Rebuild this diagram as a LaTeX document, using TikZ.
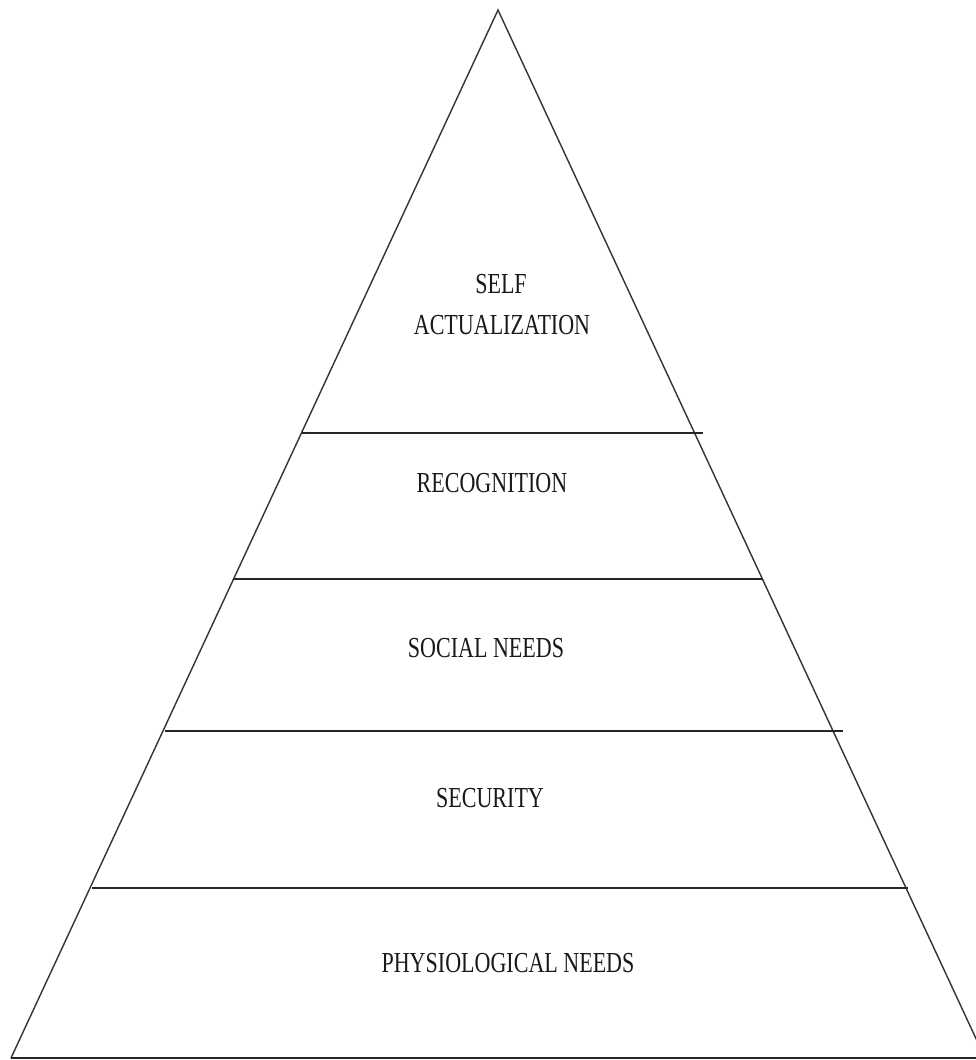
\documentclass[tikz,border=0pt]{standalone}
\usepackage{fontspec}
\setmainfont{Liberation Serif}
\begin{document}
\begin{tikzpicture}[x=1pt,y=-1pt,
  side/.style={line width=1.4pt, draw=black!80},
  tier/.style={line width=1.8pt, draw=black!85},
  lab/.style={anchor=base, inner sep=0pt, text=black!90,
    font=\fontsize{29}{35}\selectfont}]
\useasboundingbox (0,0) rectangle (976,1060);
\clip (0,0) rectangle (976,1060);
\fill[white] (0,0) rectangle (976,1060);
\coordinate (apex) at (498,10);
\coordinate (bl) at (11,1058);
\coordinate (br) at (985,1058);
\coordinate (be) at (976,1058);
\draw[side] (bl) -- (apex) -- (br);
\draw[tier] (bl) -- (be);
\coordinate (l1) at (302,433); \coordinate (r1) at (703,433);
\coordinate (l2) at (233,579); \coordinate (r2) at (763,579);
\coordinate (l3) at (165,731); \coordinate (r3) at (843,731);
\coordinate (l4) at (92,888);  \coordinate (r4) at (908,888);
\draw[tier] (l1) -- (r1);
\draw[tier] (l2) -- (r2);
\draw[tier] (l3) -- (r3);
\draw[tier] (l4) -- (r4);
\node[lab] (self) at (501,293) {\scalebox{0.76}[1]{SELF}};
\node[lab] (act) at (502,334) {\scalebox{0.76}[1]{ACTUALIZATION}};
\node[lab] (rec) at (492,492) {\scalebox{0.76}[1]{RECOGNITION}};
\node[lab] (soc) at (486,657) {\scalebox{0.76}[1]{SOCIAL NEEDS}};
\node[lab] (sec) at (490,807) {\scalebox{0.76}[1]{SECURITY}};
\node[lab] (phy) at (508,972) {\scalebox{0.76}[1]{PHYSIOLOGICAL NEEDS}};
\end{tikzpicture}
\end{document}
